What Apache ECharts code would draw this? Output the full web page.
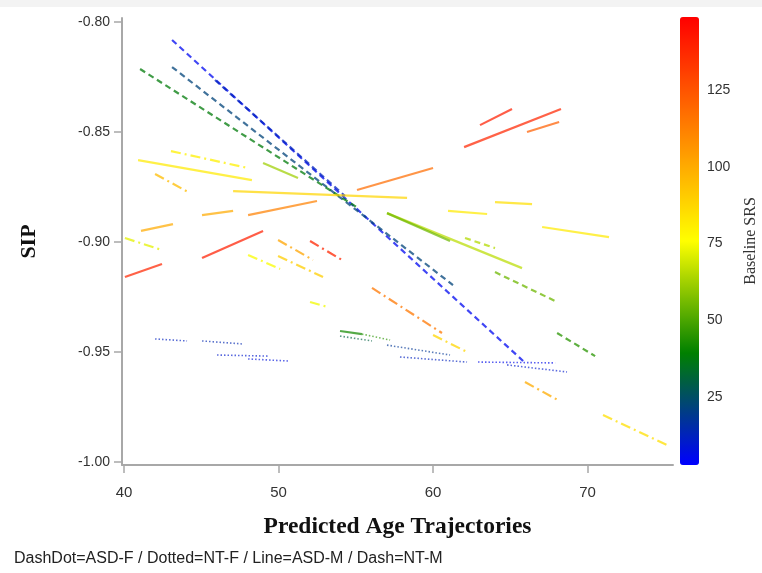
<!DOCTYPE html>
<html><head><meta charset="utf-8">
<script src="https://cdn.jsdelivr.net/npm/echarts@6/dist/echarts.min.js"></script>
<style>html,body{margin:0;padding:0;background:#fff}#c{width:762px;height:573px}</style>
</head><body><div id="c"></div>
<script>
// ---- axis ticks / ranges ----
const xTicks = [40, 50, 60, 70];
const yTicks = [-1.00, -0.95, -0.90, -0.85, -0.80];
const srsTicks = [25, 50, 75, 100, 125];
const xRange = [39.87, 75.53];
const yRange = [-1.0015, -0.7983];
const srsRange = [2.85, 148.8];

// ---- segments: [ageStart, sipStart, ageEnd, sipEnd, baselineSRS] ----
// Dash = NT-M
const dashSegments = [
  [43.11, -0.8083, 65.83, -0.9542, 5],
  [45.89, -0.8265, 54.30, -0.8792, 12],
  [43.11, -0.8206, 61.29, -0.9197, 22],
  [41.04, -0.8215, 55.15, -0.8847, 38],
  [62.07, -0.8983, 64.01, -0.9029, 65],
  [64.01, -0.9138, 68.03, -0.9274, 55],
  [68.03, -0.9415, 70.49, -0.9520, 45]
];
// Line = ASD-M
const solidSegments = [
  [63.04, -0.8470, 65.11, -0.8397, 140],
  [62.01, -0.8570, 68.28, -0.8397, 138],
  [66.08, -0.8501, 68.16, -0.8456, 122],
  [55.08, -0.8765, 60.00, -0.8665, 118],
  [40.91, -0.8629, 48.28, -0.8720, 82],
  [47.06, -0.8770, 58.32, -0.8801, 88],
  [48.03, -0.8879, 52.49, -0.8815, 112],
  [45.05, -0.8879, 47.06, -0.8860, 100],
  [41.10, -0.8951, 43.17, -0.8920, 100],
  [45.05, -0.9074, 49.00, -0.8951, 140],
  [40.06, -0.9160, 42.46, -0.9101, 138],
  [49.00, -0.8642, 51.26, -0.8710, 62],
  [64.01, -0.8820, 66.41, -0.8829, 85],
  [60.97, -0.8860, 63.50, -0.8874, 82],
  [67.06, -0.8933, 71.39, -0.8979, 82],
  [57.02, -0.8870, 65.76, -0.9120, 66],
  [57.02, -0.8870, 61.10, -0.8997, 55],
  [53.98, -0.9406, 55.40, -0.9420, 42]
];
// DashDot = ASD-F
const dashDotSegments = [
  [43.04, -0.8588, 48.03, -0.8665, 80],
  [42.01, -0.8692, 44.14, -0.8774, 95],
  [40.06, -0.8983, 42.46, -0.9038, 72],
  [52.04, -0.8997, 54.11, -0.9083, 138],
  [49.97, -0.8992, 52.23, -0.9083, 102],
  [49.97, -0.9065, 52.88, -0.9160, 90],
  [48.03, -0.9060, 50.10, -0.9124, 75],
  [52.04, -0.9274, 53.20, -0.9297, 74],
  [56.05, -0.9210, 60.58, -0.9415, 115],
  [60.00, -0.9424, 62.20, -0.9501, 88],
  [65.95, -0.9638, 68.09, -0.9720, 100],
  [71.00, -0.9788, 75.15, -0.9924, 85]
];
// Dotted = NT-F
const dottedSegments = [
  [42.01, -0.9442, 44.08, -0.9451, 12],
  [45.05, -0.9451, 47.70, -0.9465, 14],
  [46.02, -0.9515, 49.32, -0.9520, 10],
  [48.03, -0.9533, 50.61, -0.9542, 8],
  [53.98, -0.9429, 56.05, -0.9451, 30],
  [55.40, -0.9420, 57.22, -0.9447, 45],
  [57.02, -0.9470, 61.10, -0.9515, 18],
  [57.86, -0.9524, 62.20, -0.9547, 12],
  [62.91, -0.9547, 67.90, -0.9551, 6],
  [64.79, -0.9560, 68.67, -0.9592, 10]
];

const colorStops = ['#0000ff', '#008000', '#ffff00', '#ff8000', '#ff0000'];
function srsColor(v) {
  return echarts.color.lerp((v - srsRange[0]) / (srsRange[1] - srsRange[0]), colorStops);
}

const styles = {
  dash: { type: [6, 4], width: 2.2, opacity: 0.75 },
  solid: { type: 'solid', width: 2.2, opacity: 0.72 },
  dashdot: { type: [10, 4, 2, 4], width: 2.2, opacity: 0.75 },
  dotted: { type: [1.5, 2], width: 1.6, opacity: 0.65 }
};

const series = [];
function addSegs(list, st) {
  list.forEach(s => {
    series.push({
      type: 'line', xAxisIndex: 0, yAxisIndex: 0,
      data: [[s[0], s[1]], [s[2], s[3]]],
      symbol: 'none', silent: true, animation: false,
      lineStyle: { color: srsColor(s[4]), width: st.width, type: st.type, cap: 'butt', opacity: st.opacity }
    });
  });
}
addSegs(dottedSegments, styles.dotted);
addSegs(dashSegments, styles.dash);
addSegs(dashDotSegments, styles.dashdot);
addSegs(solidSegments, styles.solid);
const dummyIndex = series.length;
series.push({ type: 'scatter', xAxisIndex: 1, yAxisIndex: 1, data: [], silent: true });

const axisGray = '#a8a8a8';
const labelFont = { color: '#333', fontSize: 14, fontFamily: '"Liberation Sans", Arial, sans-serif' };
const serif = '"Liberation Serif", "Times New Roman", serif';

const chart = echarts.init(document.getElementById('c'), null, { renderer: 'canvas' });
chart.setOption({
  animation: false,
  backgroundColor: '#fff',
  grid: [
    { left: 122, top: 18, width: 551, height: 447 },
    { left: 680, top: 17, width: 19, height: 448 }
  ],
  xAxis: [{
    gridIndex: 0, type: 'value', min: xRange[0], max: xRange[1],
    name: 'Predicted Age Trajectories', nameLocation: 'middle', nameGap: 50,
    nameTextStyle: { fontFamily: serif, fontWeight: 'bold', fontSize: 23.5, color: '#111' },
    axisLine: { lineStyle: { color: axisGray, width: 2 } },
    axisTick: { show: true, length: 8, lineStyle: { color: axisGray, width: 1.5 }, customValues: xTicks },
    axisLabel: Object.assign({ margin: 20, customValues: xTicks, formatter: v => String(Math.round(v)) }, labelFont, { fontSize: 15 }),
    splitLine: { show: false }
  }, {
    gridIndex: 1, type: 'value', min: 0, max: 1, show: false
  }],
  yAxis: [{
    gridIndex: 0, type: 'value', min: yRange[0], max: yRange[1],
    name: 'SIP', nameLocation: 'middle', nameGap: 82,
    nameTextStyle: { fontFamily: serif, fontWeight: 'bold', fontSize: 22, color: '#111' },
    axisLine: { show: true, lineStyle: { color: axisGray, width: 2 } },
    axisTick: { show: true, length: 8, lineStyle: { color: axisGray, width: 1.5 }, customValues: yTicks },
    axisLabel: Object.assign({ margin: 12, customValues: yTicks, formatter: v => v.toFixed(2) }, labelFont),
    splitLine: { show: false }
  }, {
    gridIndex: 1, type: 'value', min: srsRange[0], max: srsRange[1], position: 'right',
    name: 'Baseline SRS', nameLocation: 'middle', nameGap: 44,
    nameTextStyle: { fontFamily: serif, fontSize: 16, color: '#333' },
    axisLine: { show: false },
    axisTick: { show: true, length: 6, lineStyle: { color: '#888' }, customValues: srsTicks },
    axisLabel: Object.assign({ margin: 8, customValues: srsTicks }, labelFont),
    splitLine: { show: false }
  }],
  visualMap: [{
    type: 'continuous', seriesIndex: dummyIndex, dimension: 1,
    min: srsRange[0], max: srsRange[1], calculable: false,
    left: 680, top: 17, itemWidth: 19, itemHeight: 448, padding: 0,
    inRange: { color: colorStops },
    textStyle: { color: 'transparent' }
  }],
  graphic: [
    { type: 'rect', left: 0, top: 0, shape: { width: 762, height: 7 }, style: { fill: '#f3f3f3' }, silent: true },
    { type: 'text', left: 14, top: 551, style: { text: 'DashDot=ASD-F / Dotted=NT-F / Line=ASD-M / Dash=NT-M', fill: '#222', font: '16px "Liberation Sans", Arial, sans-serif' } }
  ],
  series: series
});
</script></body></html>
